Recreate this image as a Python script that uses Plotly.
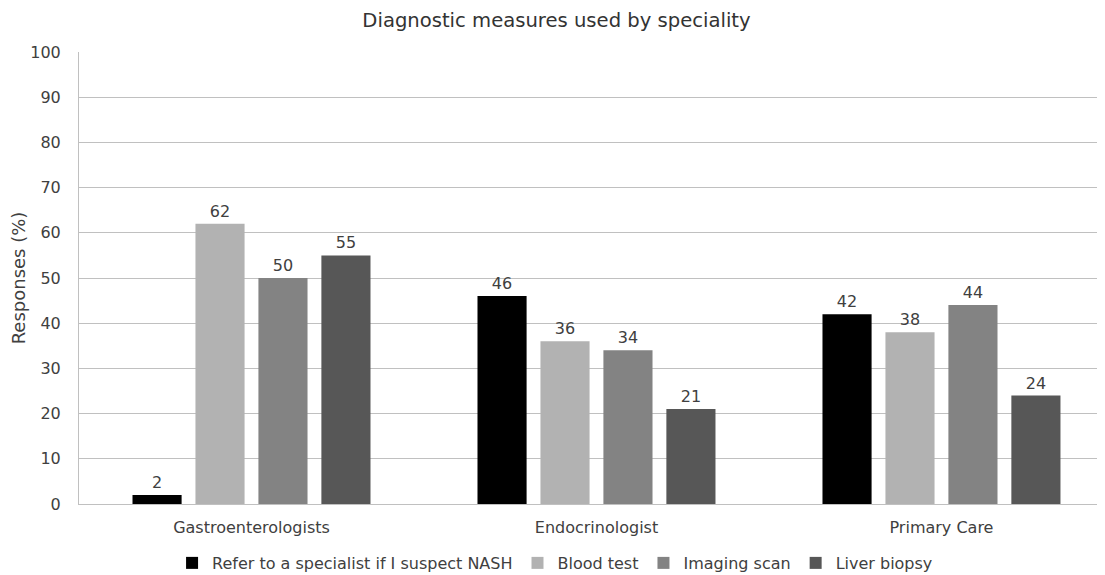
import plotly.graph_objects as go

categories = ["Gastroenterologists", "Endocrinologist", "Primary Care"]
series_names = ["Refer to a specialist if I suspect NASH", "Blood test", "Imaging scan", "Liver biopsy"]
refer = [2, 46, 42]
blood = [62, 36, 38]
imaging = [50, 34, 44]
biopsy = [55, 21, 24]
colors = ["#000000", "#b2b2b2", "#838383", "#575757"]
y_ticks = [0, 10, 20, 30, 40, 50, 60, 70, 80, 90, 100]

FONT = "DejaVu Sans"
TXT = "#404040"
fig = go.Figure()
for name, vals, col in zip(series_names, [refer, blood, imaging, biopsy], colors):
    fig.add_trace(go.Bar(
        x=categories, y=vals, name=name, marker=dict(color=col, line=dict(width=0)),
        text=[str(v) for v in vals], textposition="outside",
        textfont=dict(family=FONT, size=16, color=TXT), cliponaxis=False,
    ))

H = 575
fig.update_layout(
    width=1097, height=H,
    margin=dict(l=71, r=0, t=44, b=79),
    paper_bgcolor="white", plot_bgcolor="white",
    barmode="group", bargap=0.27, bargroupgap=0.22,
    title=dict(text="Diagnostic measures used by speciality", x=0.5, xanchor="center",
               y=1 - 12 / H, yanchor="middle",
               font=dict(family=FONT, size=19.6, color="#333333")),
    font=dict(family=FONT, size=16, color=TXT),
    legend=dict(orientation="h", x=0.464, xanchor="center", y=-0.1305, yanchor="middle",
                font=dict(family=FONT, size=16, color=TXT), traceorder="normal",
                itemwidth=30),
    xaxis=dict(range=[-0.5, 2.474], showgrid=False, showline=True, linecolor="#c0c0c0",
               linewidth=1, ticks="", ticklabelstandoff=9,
               tickfont=dict(family=FONT, size=16, color=TXT)),
    yaxis=dict(range=[0, 100], tickvals=y_ticks, showgrid=True, gridcolor="#c0c0c0",
               gridwidth=1, showline=True, linecolor="#c0c0c0", zeroline=False,
               ticks="", ticklabelstandoff=14,
               tickfont=dict(family=FONT, size=16, color=TXT),
               title=dict(text="Responses (%)", font=dict(family=FONT, size=18, color=TXT),
                          standoff=6)),
    showlegend=True,
)

fig.write_html("out.html")
